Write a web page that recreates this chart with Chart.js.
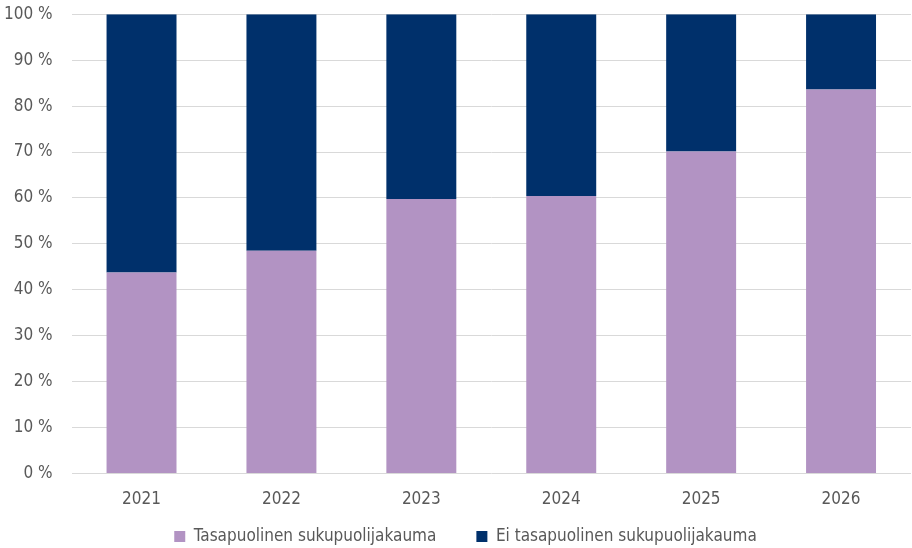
<!DOCTYPE html>
<html><head><meta charset="utf-8">
<script src="https://cdn.jsdelivr.net/npm/chart.js@4/dist/chart.umd.min.js"></script>
<style>html,body{margin:0;padding:0;background:#fff}#wrap{width:912px;height:548px}</style>
</head><body><div id="wrap"><canvas id="c"></canvas></div>
<script>
const categories = ["2021","2022","2023","2024","2025","2026"];
const balanced = [43.8, 48.5, 59.8, 60.4, 70.1, 83.6];
const unbalanced = [56.2, 51.5, 40.2, 39.6, 29.9, 16.4];
const seriesNames = ["Tasapuolinen sukupuolijakauma", "Ei tasapuolinen sukupuolijakauma"];
const FONT = "'DejaVu Sans Condensed', 'DejaVu Sans', sans-serif";
Chart.defaults.font.family = FONT;
Chart.defaults.font.size = 17;
Chart.defaults.color = '#595959';
const LEG_PAD = 40;
const legendShift = {
  id: 'legendShift',
  afterLayout(chart) {
    const lg = chart.legend;
    if (!lg) return;
    const dy = LEG_PAD - 10, dx = 10;
    lg.top -= dy;
    lg.left += dx; lg.right += dx;
  }
};
new Chart(document.getElementById('c'), {
  type: 'bar',
  data: {
    labels: categories,
    datasets: [
      {label: seriesNames[0], data: balanced, backgroundColor: '#b293c3', categoryPercentage: 1, barPercentage: 0.5},
      {label: seriesNames[1], data: unbalanced, backgroundColor: '#00306b', categoryPercentage: 1, barPercentage: 0.5}
    ]
  },
  plugins: [legendShift],
  options: {
    responsive: true, maintainAspectRatio: false, animation: false,
    layout: {autoPadding: false, padding: {top: 0, right: 1, left: 0, bottom: -7}},
    plugins: {
      legend: {position: 'bottom', maxHeight: 37, labels: {boxWidth: 11, boxHeight: 11, padding: LEG_PAD, font: {size: 17}}},
      tooltip: {enabled: false}
    },
    scales: {
      x: {stacked: true, grid: {display: false}, border: {display: false}, ticks: {padding: 8}},
      y: {stacked: true, min: 0, max: 100,
          ticks: {stepSize: 10, padding: 4, callback: v => v + ' %'},
          grid: {color: '#d9d9d9', drawTicks: true, tickLength: 15, tickColor: 'rgba(0,0,0,0)'}, border: {display: false}}
    }
  }
});
</script></body></html>
